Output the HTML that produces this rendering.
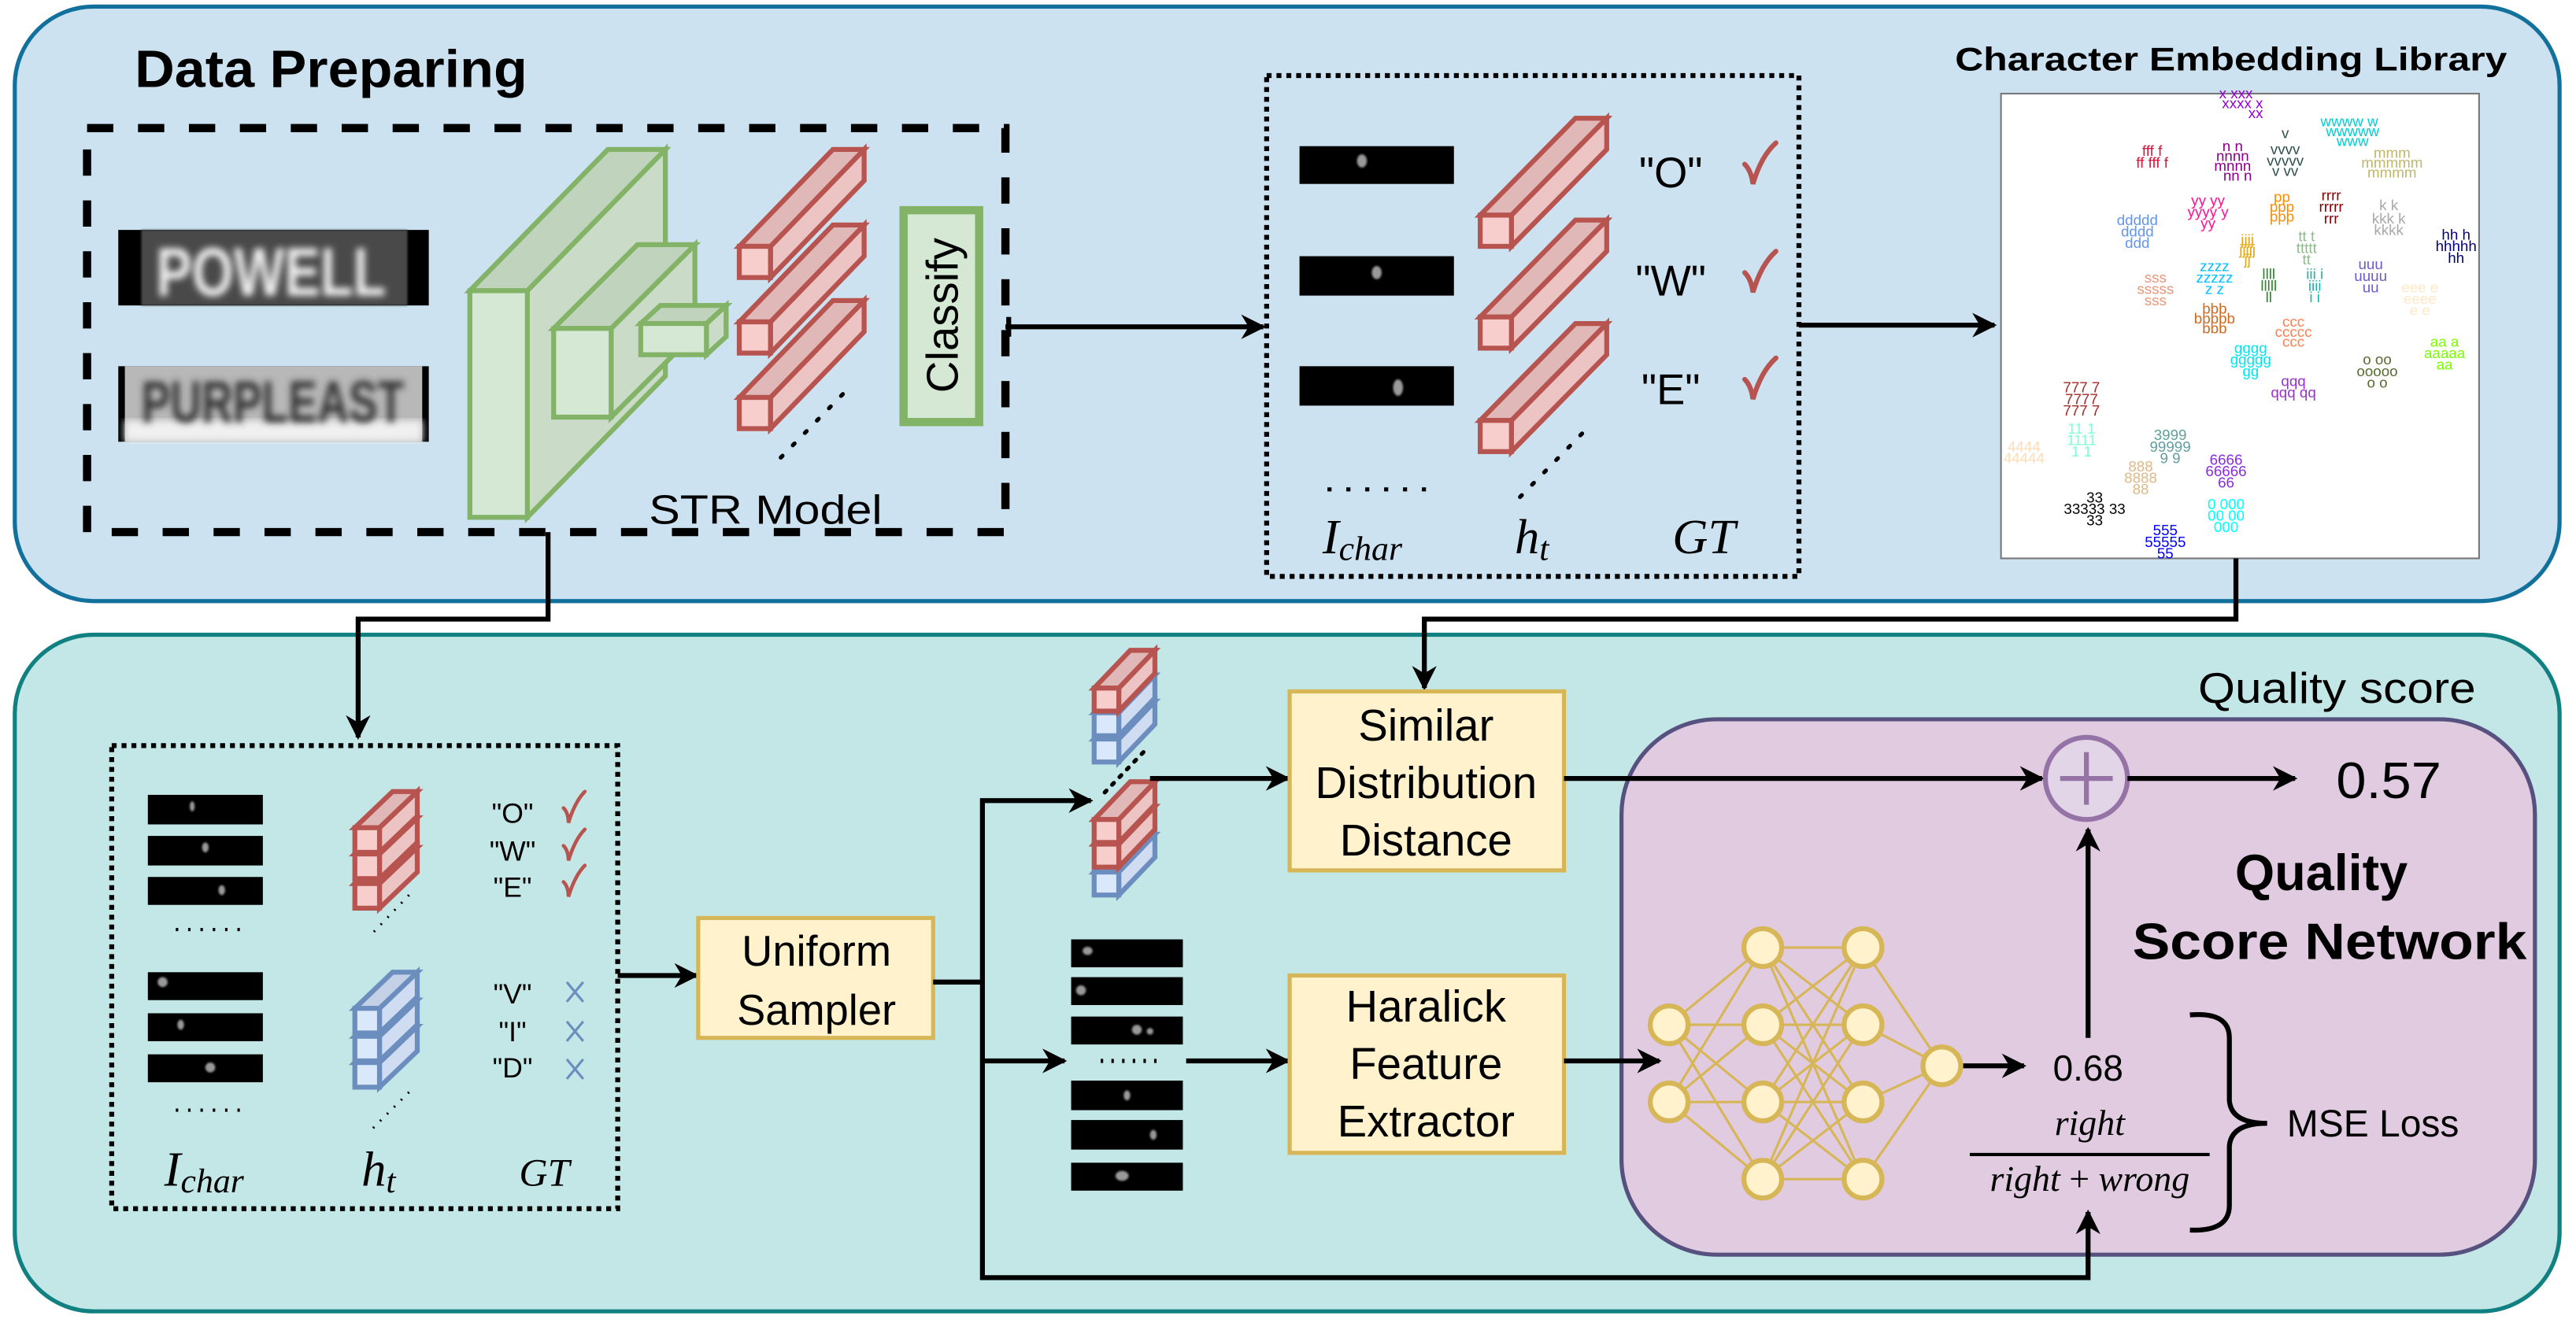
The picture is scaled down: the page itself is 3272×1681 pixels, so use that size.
<!DOCTYPE html>
<html><head><meta charset="utf-8">
<style>
html,body{margin:0;padding:0;background:#fff;}
svg{display:block;}
text{font-family:"Liberation Sans",Arial,sans-serif;}
.m{font-family:"Liberation Serif",serif;font-style:italic;}
.sc text{font-size:9px;text-anchor:middle;}
</style></head>
<body>
<svg xmlns="http://www.w3.org/2000/svg" width="3272" height="1681" viewBox="0 0 1568 805.6" preserveAspectRatio="none">
<defs>
<marker id="ar" viewBox="0 0 10 10" refX="9" refY="5" markerWidth="5" markerHeight="5" orient="auto"><path d="M0,0 L10,5 L0,10 L3,5 z" fill="#000"/></marker>
<filter id="bl"><feGaussianBlur stdDeviation="2.2"/></filter>
<filter id="bl2"><feGaussianBlur stdDeviation="0.6"/></filter>
</defs>

<rect x="9" y="4" width="1549" height="362" rx="48" fill="#cce2f0" stroke="#12719c" stroke-width="2.5"/>
<rect x="9" y="386.5" width="1549" height="412" rx="48" fill="#c3e7e6" stroke="#118080" stroke-width="2.5"/>

<text x="82" y="53" font-size="32" font-weight="bold" textLength="239" lengthAdjust="spacingAndGlyphs">Data Preparing</text>
<text x="1190" y="43" font-size="20" font-weight="bold" textLength="336" lengthAdjust="spacingAndGlyphs">Character Embedding Library</text>

<rect x="53" y="78" width="559" height="246" fill="none" stroke="#000" stroke-width="5" stroke-dasharray="16 15"/>

<rect x="72" y="140" width="189" height="46" fill="#000"/>
<rect x="86" y="140" width="162" height="46" fill="#4a4a4a" filter="url(#bl2)"/>
<text x="165" y="180" font-size="42" font-weight="bold" fill="#f2f2f2" text-anchor="middle" filter="url(#bl)" textLength="140" lengthAdjust="spacingAndGlyphs">POWELL</text>
<rect x="72" y="223" width="189" height="46" fill="#000"/>
<rect x="76" y="223" width="181" height="46" fill="#b8b8b8"/>
<rect x="76" y="256" width="181" height="13" fill="#f0f0f0" filter="url(#bl)"/>
<text x="166" y="257" font-size="36" font-weight="bold" fill="#333" text-anchor="middle" filter="url(#bl)" textLength="160" lengthAdjust="spacingAndGlyphs">PURPLEAST</text>

<g stroke="#82b366" stroke-width="3" stroke-linejoin="miter">
<polygon points="321,177 405,91 405,229 321,315" fill="#cadcc8"/>
<polygon points="286,177 370,91 405,91 321,177" fill="#c0d3bd"/>
<rect x="286" y="177" width="35" height="138" fill="#d5e8d4"/>
<polygon points="372,200 423,149 423,203 372,254" fill="#cadcc8"/>
<polygon points="337,200 388,149 423,149 372,200" fill="#c0d3bd"/>
<rect x="337" y="200" width="35" height="54" fill="#d5e8d4"/>
<polygon points="430,197 442,186 442,205 430,216" fill="#cadcc8"/>
<polygon points="390,197 402,186 442,186 430,197" fill="#c0d3bd"/>
<rect x="390" y="197" width="40" height="19" fill="#d5e8d4"/>
</g>

<g stroke="#b85450" stroke-width="3">
<polygon points="469,150 526,91 526,110 469,169" fill="#ecc4c4"/><polygon points="450,150 507,91 526,91 469,150" fill="#e0b8b8"/><rect x="450" y="150" width="19" height="19" fill="#f8cecc"/>
<polygon points="469,196 526,137 526,156 469,215" fill="#ecc4c4"/><polygon points="450,196 507,137 526,137 469,196" fill="#e0b8b8"/><rect x="450" y="196" width="19" height="19" fill="#f8cecc"/>
<polygon points="469,242 526,183 526,202 469,261" fill="#ecc4c4"/><polygon points="450,242 507,183 526,183 469,242" fill="#e0b8b8"/><rect x="450" y="242" width="19" height="19" fill="#f8cecc"/>
</g>
<line x1="513" y1="240" x2="470" y2="284" stroke="#000" stroke-width="2.5" stroke-dasharray="1.5 9" stroke-linecap="round"/>

<rect x="550" y="128" width="46" height="129" fill="#d5e8d4" stroke="#82b366" stroke-width="5"/>
<text transform="translate(583,192) rotate(-90)" font-size="27" text-anchor="middle">Classify</text>
<text x="466" y="319" font-size="25" text-anchor="middle" textLength="142" lengthAdjust="spacingAndGlyphs">STR Model</text>

<line x1="612" y1="199" x2="769" y2="199" stroke="#000" stroke-width="3" marker-end="url(#ar)"/>
<line x1="614" y1="193" x2="614" y2="205" stroke="#000" stroke-width="3"/>

<rect x="771" y="46" width="324" height="305" fill="none" stroke="#000" stroke-width="3" stroke-dasharray="3 3"/>
<g fill="#000"><rect x="791" y="89" width="94" height="23"/><rect x="791" y="156" width="94" height="24"/><rect x="791" y="223" width="94" height="24"/></g>
<g fill="#999" filter="url(#bl2)"><ellipse cx="829" cy="98" rx="3" ry="4"/><ellipse cx="838" cy="166" rx="3" ry="4"/><ellipse cx="851" cy="236" rx="3" ry="5"/></g>
<g stroke="#b85450" stroke-width="3">
<polygon points="920,131 978,72 978,91 920,150" fill="#ecc4c4"/><polygon points="901,131 959,72 978,72 920,131" fill="#e0b8b8"/><rect x="901" y="131" width="19" height="19" fill="#f8cecc"/>
<polygon points="920,193 978,134 978,153 920,212" fill="#ecc4c4"/><polygon points="901,193 959,134 978,134 920,193" fill="#e0b8b8"/><rect x="901" y="193" width="19" height="19" fill="#f8cecc"/>
<polygon points="920,256 978,197 978,216 920,275" fill="#ecc4c4"/><polygon points="901,256 959,197 978,197 920,256" fill="#e0b8b8"/><rect x="901" y="256" width="19" height="19" fill="#f8cecc"/>
</g>
<line x1="963" y1="264" x2="920" y2="308" stroke="#000" stroke-width="2.5" stroke-dasharray="1.5 9" stroke-linecap="round"/>
<line x1="808" y1="298" x2="870" y2="298" stroke="#000" stroke-width="2.5" stroke-dasharray="2.5 9"/>
<g font-size="26" text-anchor="middle"><text x="1017" y="114">"O"</text><text x="1017" y="180">"W"</text><text x="1017" y="246">"E"</text></g>
<g fill="none" stroke="#b85450" stroke-width="3" stroke-linecap="round">
<path d="M1062,100 Q1066,104 1067,112 Q1072,95 1081,87"/>
<path d="M1062,166 Q1066,170 1067,178 Q1072,161 1081,153"/>
<path d="M1062,231 Q1066,235 1067,243 Q1072,226 1081,218"/>
</g>
<text class="m" x="805" y="337" font-size="30">I<tspan font-size="21" dy="4">char</tspan></text>
<text class="m" x="922" y="337" font-size="30">h<tspan font-size="21" dy="4">t</tspan></text>
<text class="m" x="1018" y="337" font-size="30">GT</text>

<line x1="1095" y1="198" x2="1214" y2="198" stroke="#000" stroke-width="3" marker-end="url(#ar)"/>

<rect x="1218" y="57" width="291" height="283" fill="#fff" stroke="#777" stroke-width="1"/>
<g class="sc">
<g fill="#9400d3"><text x="1361" y="60">x xxx</text><text x="1365" y="66">xxxx x</text><text x="1373" y="72">xx</text></g>
<g fill="#00ced1"><text x="1430" y="77">wwww w</text><text x="1432" y="83">wwwww</text><text x="1432" y="89">www</text></g>
<g fill="#dc143c"><text x="1310" y="95">fff f</text><text x="1310" y="102">ff fff f</text></g>
<g fill="#8b008b"><text x="1359" y="92">n n</text><text x="1359" y="98">nnnn</text><text x="1359" y="104">mnnn</text><text x="1362" y="110">nn n</text></g>
<g fill="#2f4f4f"><text x="1391" y="84">v</text><text x="1391" y="94">vvvv</text><text x="1391" y="101">vvvvv</text><text x="1391" y="107">v vv</text></g>
<g fill="#bdb76b"><text x="1456" y="96">mmm</text><text x="1456" y="102">mmmmm</text><text x="1456" y="108">mmmm</text></g>
<g fill="#ff1493"><text x="1344" y="125">yy yy</text><text x="1344" y="132">yyyy y</text><text x="1344" y="139">yy</text></g>
<g fill="#ff8c00"><text x="1389" y="123">pp</text><text x="1389" y="129">ppp</text><text x="1389" y="135">ppp</text></g>
<g fill="#8b0000"><text x="1419" y="122">rrrr</text><text x="1419" y="129">rrrrr</text><text x="1419" y="136">rrr</text></g>
<g fill="#a9a9a9"><text x="1454" y="128">k  k</text><text x="1454" y="136">kkk k</text><text x="1454" y="143">kkkk</text></g>
<g fill="#6495ed"><text x="1301" y="137">ddddd</text><text x="1301" y="144">dddd</text><text x="1301" y="151">ddd</text></g>
<g fill="#000080"><text x="1495" y="146">hh h</text><text x="1495" y="153">hhhhh</text><text x="1495" y="160">hh</text></g>
<g fill="#daa520"><text x="1368" y="149">jjjj</text><text x="1368" y="155">jjjjj</text><text x="1368" y="161">jj</text></g>
<g fill="#8fbc8f"><text x="1404" y="147">tt t</text><text x="1404" y="154">ttttt</text><text x="1404" y="161">tt</text></g>
<g fill="#00bfff"><text x="1348" y="165">zzzz</text><text x="1348" y="172">zzzzz</text><text x="1348" y="179">z z</text></g>
<g fill="#228b22"><text x="1381" y="170">llll</text><text x="1381" y="177">lllll</text><text x="1381" y="184">ll</text></g>
<g fill="#20b2aa"><text x="1409" y="170">iii i</text><text x="1409" y="177">iiii</text><text x="1409" y="184">i i</text></g>
<g fill="#e9967a"><text x="1312" y="172">sss</text><text x="1312" y="179">sssss</text><text x="1312" y="186">sss</text></g>
<g fill="#6a5acd"><text x="1443" y="164">uuu</text><text x="1443" y="171">uuuu</text><text x="1443" y="178">uu</text></g>
<g fill="#ffe8c6"><text x="1473" y="178">eee e</text><text x="1473" y="185">eeee</text><text x="1473" y="192">e e</text></g>
<g fill="#d2691e"><text x="1348" y="191">bbb</text><text x="1348" y="197">bbbbb</text><text x="1348" y="203">bbb</text></g>
<g fill="#ff7f50"><text x="1396" y="199">ccc</text><text x="1396" y="205">ccccc</text><text x="1396" y="211">ccc</text></g>
<g fill="#7cfc00"><text x="1488" y="211">aa a</text><text x="1488" y="218">aaaaa</text><text x="1488" y="225">aa</text></g>
<g fill="#556b2f"><text x="1447" y="222">o oo</text><text x="1447" y="229">ooooo</text><text x="1447" y="236">o o</text></g>
<g fill="#00e5ee"><text x="1370" y="215">gggg</text><text x="1370" y="222">ggggg</text><text x="1370" y="229">gg</text></g>
<g fill="#9932cc"><text x="1396" y="235">qqq</text><text x="1396" y="242">qqq qq</text></g>
<g fill="#a52a2a"><text x="1267" y="239">777 7</text><text x="1267" y="246">7777</text><text x="1267" y="253">777 7</text></g>
<g fill="#7fffd4"><text x="1267" y="264">11 1</text><text x="1267" y="271">1111</text><text x="1267" y="278">1 1</text></g>
<g fill="#ffdcb4"><text x="1232" y="275">4444</text><text x="1232" y="282">44444</text></g>
<g fill="#5f9ea0"><text x="1321" y="268">3999</text><text x="1321" y="275">99999</text><text x="1321" y="282">9 9</text></g>
<g fill="#deb887"><text x="1303" y="287">888</text><text x="1303" y="294">8888</text><text x="1303" y="301">88</text></g>
<g fill="#8a2be2"><text x="1355" y="283">6666</text><text x="1355" y="290">66666</text><text x="1355" y="297">66</text></g>
<g fill="#000"><text x="1275" y="306">33</text><text x="1275" y="313">33333 33</text><text x="1275" y="320">33</text></g>
<g fill="#00ffff"><text x="1355" y="310">0 000</text><text x="1355" y="317">00 00</text><text x="1355" y="324">000</text></g>
<g fill="#0000ff"><text x="1318" y="326">555</text><text x="1318" y="333">55555</text><text x="1318" y="340">55</text></g>
</g>

<polyline points="333.6,324 333.6,377 218,377 218,449" fill="none" stroke="#000" stroke-width="3" marker-end="url(#ar)"/>
<polyline points="1361,340 1361,377 867,377 867,419" fill="none" stroke="#000" stroke-width="3" marker-end="url(#ar)"/>

<text x="1338" y="428" font-size="26" textLength="169" lengthAdjust="spacingAndGlyphs">Quality score</text>

<rect x="68" y="454" width="308" height="282" fill="none" stroke="#000" stroke-width="3" stroke-dasharray="3 3"/>
<g fill="#000"><rect x="90" y="484" width="70" height="18"/><rect x="90" y="509" width="70" height="18"/><rect x="90" y="534" width="70" height="17"/>
<rect x="90" y="592" width="70" height="17"/><rect x="90" y="617" width="70" height="17"/><rect x="90" y="642" width="70" height="17"/></g>
<g fill="#999" filter="url(#bl2)"><ellipse cx="117" cy="491" rx="1.5" ry="3"/><ellipse cx="125" cy="516" rx="2" ry="3"/><ellipse cx="135" cy="542" rx="2" ry="3"/><ellipse cx="99" cy="598" rx="3" ry="3"/><ellipse cx="110" cy="624" rx="2" ry="3"/><ellipse cx="128" cy="650" rx="3" ry="3"/></g>
<line x1="107" y1="566" x2="148" y2="566" stroke="#000" stroke-width="2" stroke-dasharray="1.5 6"/>
<line x1="107" y1="676" x2="148" y2="676" stroke="#000" stroke-width="2" stroke-dasharray="1.5 6"/>
<g stroke="#b85450" stroke-width="3">
<polygon points="231,538 254,516 254,531 231,553" fill="#ecc4c4"/><polygon points="216,538 239,516 254,516 231,538" fill="#e0b8b8"/><rect x="216" y="538" width="15" height="15" fill="#f8cecc"/>
<polygon points="231,520 254,498 254,513 231,535" fill="#ecc4c4"/><polygon points="216,520 239,498 254,498 231,520" fill="#e0b8b8"/><rect x="216" y="520" width="15" height="15" fill="#f8cecc"/>
<polygon points="231,504 254,482 254,497 231,519" fill="#ecc4c4"/><polygon points="216,504 239,482 254,482 231,504" fill="#e0b8b8"/><rect x="216" y="504" width="15" height="15" fill="#f8cecc"/>
</g>
<g stroke="#6c8ebf" stroke-width="3">
<polygon points="231,647 254,625 254,640 231,662" fill="#cfdcf2"/><polygon points="216,647 239,625 254,625 231,647" fill="#c3d0e6"/><rect x="216" y="647" width="15" height="15" fill="#dae8fc"/>
<polygon points="231,631 254,609 254,624 231,646" fill="#cfdcf2"/><polygon points="216,631 239,609 254,609 231,631" fill="#c3d0e6"/><rect x="216" y="631" width="15" height="15" fill="#dae8fc"/>
<polygon points="231,614 254,592 254,607 231,629" fill="#cfdcf2"/><polygon points="216,614 239,592 254,592 231,614" fill="#c3d0e6"/><rect x="216" y="614" width="15" height="15" fill="#dae8fc"/>
</g>
<line x1="249" y1="545" x2="227" y2="568" stroke="#000" stroke-width="1.5" stroke-dasharray="1 5"/>
<line x1="249" y1="665" x2="227" y2="687" stroke="#000" stroke-width="1.5" stroke-dasharray="1 5"/>
<g font-size="17" text-anchor="middle"><text x="312" y="501">"O"</text><text x="312" y="524">"W"</text><text x="312" y="546">"E"</text>
<text x="312" y="611">"V"</text><text x="312" y="634">"I"</text><text x="312" y="656">"D"</text></g>
<g fill="none" stroke="#b85450" stroke-width="2.2" stroke-linecap="round">
<path d="M343,492 Q346,495 346,501 Q350,488 356,482"/><path d="M343,515 Q346,518 346,524 Q350,511 356,505"/><path d="M343,537 Q346,540 346,546 Q350,533 356,527"/></g>
<g stroke="#6c8ebf" stroke-width="1.5"><path d="M345,598 L355,610 M355,598 L345,610"/><path d="M345,622 L355,634 M355,622 L345,634"/><path d="M345,645 L355,657 M355,645 L345,657"/></g>
<text class="m" x="100" y="722" font-size="30">I<tspan font-size="21" dy="4">char</tspan></text>
<text class="m" x="220" y="722" font-size="30">h<tspan font-size="21" dy="4">t</tspan></text>
<text class="m" x="316" y="722" font-size="24">GT</text>

<line x1="376" y1="594" x2="424" y2="594" stroke="#000" stroke-width="3" marker-end="url(#ar)"/>
<rect x="425" y="559" width="143" height="73" fill="#fff2cc" stroke="#d6b656" stroke-width="2.5"/>
<text x="497" y="588" font-size="26" text-anchor="middle">Uniform</text>
<text x="497" y="624" font-size="26" text-anchor="middle">Sampler</text>
<polyline points="568,598 598,598" fill="none" stroke="#000" stroke-width="3"/>
<polyline points="598,599.5 598,487.5 664,487.5" fill="none" stroke="#000" stroke-width="3" marker-end="url(#ar)"/>
<polyline points="598,646 648,646" fill="none" stroke="#000" stroke-width="3" marker-end="url(#ar)"/>

<g stroke-width="3">
<g stroke="#6c8ebf"><polygon points="681,450 703,427 703,441 681,464" fill="#cfdcf2"/><polygon points="666,450 688,427 703,427 681,450" fill="#c3d0e6"/><rect x="666" y="450" width="15" height="14" fill="#dae8fc"/>
<polygon points="681,434 703,411 703,425 681,448" fill="#cfdcf2"/><polygon points="666,434 688,411 703,411 681,434" fill="#c3d0e6"/><rect x="666" y="434" width="15" height="14" fill="#dae8fc"/></g>
<g stroke="#b85450"><polygon points="681,419 703,396 703,410 681,433" fill="#ecc4c4"/><polygon points="666,419 688,396 703,396 681,419" fill="#e0b8b8"/><rect x="666" y="419" width="15" height="14" fill="#f8cecc"/></g>
<g stroke="#6c8ebf"><polygon points="681,531 703,508 703,522 681,545" fill="#cfdcf2"/><polygon points="666,531 688,508 703,508 681,531" fill="#c3d0e6"/><rect x="666" y="531" width="15" height="14" fill="#dae8fc"/></g>
<g stroke="#b85450"><polygon points="681,514 703,491 703,505 681,528" fill="#ecc4c4"/><polygon points="666,514 688,491 703,491 681,514" fill="#e0b8b8"/><rect x="666" y="514" width="15" height="14" fill="#f8cecc"/>
<polygon points="681,499 703,476 703,490 681,513" fill="#ecc4c4"/><polygon points="666,499 688,476 703,476 681,499" fill="#e0b8b8"/><rect x="666" y="499" width="15" height="14" fill="#f8cecc"/></g>
</g>
<line x1="696" y1="458" x2="672" y2="483" stroke="#000" stroke-width="2.5" stroke-dasharray="1.5 5" stroke-linecap="round"/>
<line x1="700" y1="474" x2="784" y2="474" stroke="#000" stroke-width="3" marker-end="url(#ar)"/>

<g fill="#000"><rect x="652" y="572" width="68" height="17"/><rect x="652" y="595" width="68" height="17"/><rect x="652" y="619" width="68" height="17"/>
<rect x="652" y="658" width="68" height="18"/><rect x="652" y="682" width="68" height="18"/><rect x="652" y="708" width="68" height="17"/></g>
<g fill="#999" filter="url(#bl2)"><ellipse cx="662" cy="579" rx="3" ry="2.5"/><ellipse cx="658" cy="603" rx="3" ry="3"/><ellipse cx="692" cy="627" rx="3" ry="3"/><ellipse cx="700" cy="628" rx="2" ry="2"/><ellipse cx="686" cy="667" rx="2" ry="3"/><ellipse cx="702" cy="691" rx="2" ry="3"/><ellipse cx="683" cy="716" rx="4" ry="3"/></g>
<line x1="670" y1="646" x2="704" y2="646" stroke="#000" stroke-width="2.5" stroke-dasharray="1.5 5"/>
<line x1="722" y1="646" x2="784" y2="646" stroke="#000" stroke-width="3" marker-end="url(#ar)"/>

<rect x="785" y="421" width="167" height="109" fill="#fff2cc" stroke="#d6b656" stroke-width="2.5"/>
<g font-size="27" text-anchor="middle"><text x="868" y="451">Similar</text><text x="868" y="486">Distribution</text><text x="868" y="521">Distance</text></g>
<rect x="785" y="594" width="167" height="108" fill="#fff2cc" stroke="#d6b656" stroke-width="2.5"/>
<g font-size="27" text-anchor="middle"><text x="868" y="622">Haralick</text><text x="868" y="657">Feature</text><text x="868" y="692">Extractor</text></g>

<rect x="987" y="438" width="556" height="326" rx="58" fill="#e1cbe1" stroke="#56517e" stroke-width="2.5"/>
<polyline points="598,598 598,778 1271,778 1271,738" fill="none" stroke="#000" stroke-width="3" marker-end="url(#ar)"/>
<line x1="952" y1="474" x2="1243" y2="474" stroke="#000" stroke-width="3" marker-end="url(#ar)"/>
<line x1="952" y1="646" x2="1010" y2="646" stroke="#000" stroke-width="3" marker-end="url(#ar)"/>
<circle cx="1270" cy="474" r="25" fill="#e1d5e7" stroke="#9673a6" stroke-width="3"/>
<path d="M1270,458 V490 M1254,474 H1286" stroke="#9673a6" stroke-width="3"/>
<line x1="1295" y1="474" x2="1397" y2="474" stroke="#000" stroke-width="3" marker-end="url(#ar)"/>
<text x="1422" y="486" font-size="31" textLength="64" lengthAdjust="spacingAndGlyphs">0.57</text>
<text x="1413" y="542" font-size="31" font-weight="bold" text-anchor="middle">Quality</text>
<text x="1418" y="584" font-size="31" font-weight="bold" text-anchor="middle" textLength="240" lengthAdjust="spacingAndGlyphs">Score Network</text>
<line x1="1271" y1="632" x2="1271" y2="505" stroke="#000" stroke-width="3" marker-end="url(#ar)"/>

<g stroke="#d6b656" stroke-width="1.5">
<path d="M1016,624 L1073,577 M1016,624 L1073,624 M1016,624 L1073,671 M1016,624 L1073,718 M1016,671 L1073,577 M1016,671 L1073,624 M1016,671 L1073,671 M1016,671 L1073,718"/>
<path d="M1073,577 L1134,577 M1073,577 L1134,624 M1073,577 L1134,671 M1073,577 L1134,718 M1073,624 L1134,577 M1073,624 L1134,624 M1073,624 L1134,671 M1073,624 L1134,718 M1073,671 L1134,577 M1073,671 L1134,624 M1073,671 L1134,671 M1073,671 L1134,718 M1073,718 L1134,577 M1073,718 L1134,624 M1073,718 L1134,671 M1073,718 L1134,718"/>
<path d="M1134,577 L1182,649 M1134,624 L1182,649 M1134,671 L1182,649 M1134,718 L1182,649"/>
</g>
<g fill="#fff2cc" stroke="#d6b656" stroke-width="3">
<circle cx="1016" cy="624" r="11.5"/><circle cx="1016" cy="671" r="11.5"/>
<circle cx="1073" cy="577" r="11.5"/><circle cx="1073" cy="624" r="11.5"/><circle cx="1073" cy="671" r="11.5"/><circle cx="1073" cy="718" r="11.5"/>
<circle cx="1134" cy="577" r="11.5"/><circle cx="1134" cy="624" r="11.5"/><circle cx="1134" cy="671" r="11.5"/><circle cx="1134" cy="718" r="11.5"/>
<circle cx="1182" cy="649" r="11.5"/>
</g>
<line x1="1195" y1="649" x2="1232" y2="649" stroke="#000" stroke-width="3" marker-end="url(#ar)"/>
<text x="1271" y="658" font-size="22" text-anchor="middle">0.68</text>
<text class="m" x="1272" y="691" font-size="22" text-anchor="middle">right</text>
<line x1="1199" y1="703" x2="1345" y2="703" stroke="#000" stroke-width="2"/>
<text class="m" x="1272" y="725" font-size="22" text-anchor="middle">right <tspan font-style="normal">+</tspan> wrong</text>
<path d="M1333,618 Q1357,616 1357,632 L1357,670 Q1358,684 1380,684 Q1358,684 1357,698 L1357,734 Q1357,750 1333,749" fill="none" stroke="#000" stroke-width="3"/>
<text x="1392" y="692" font-size="23">MSE Loss</text>
</svg>
</body></html>
